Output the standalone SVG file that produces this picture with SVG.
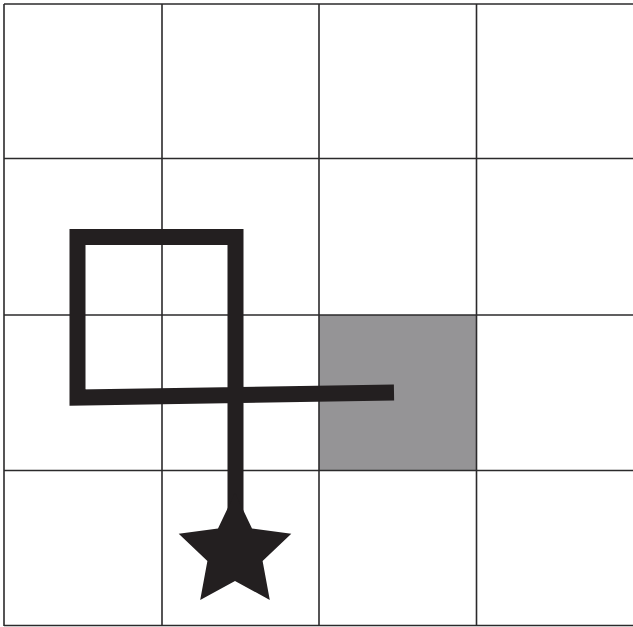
<svg xmlns="http://www.w3.org/2000/svg" width="633" height="627" viewBox="0 0 633 627">
<style>
.grid{stroke:#2b2a2b;stroke-width:1.6;fill:none}
.path{stroke:#231f20;stroke-width:16;fill:none;stroke-linejoin:miter;stroke-linecap:butt}
</style>
<rect x="0" y="0" width="633" height="627" fill="#fff"/>
<g id="target-cell">
<rect x="319" y="315" width="158" height="155" fill="#959496"/>
</g>
<g id="grid">
<line class="grid" x1="4" y1="4" x2="633" y2="4"/>
<line class="grid" x1="4" y1="158.5" x2="633" y2="158.5"/>
<line class="grid" x1="4" y1="315" x2="633" y2="315"/>
<line class="grid" x1="4" y1="470.5" x2="633" y2="470.5"/>
<line class="grid" x1="4" y1="625.5" x2="633" y2="625.5"/>
<line class="grid" x1="4" y1="4" x2="4" y2="626"/>
<line class="grid" x1="162" y1="4" x2="162" y2="626"/>
<line class="grid" x1="319" y1="4" x2="319" y2="626"/>
<line class="grid" x1="476.5" y1="4" x2="476.5" y2="626"/>
</g>
<g id="connectors">
<path class="path" d="M394 392.5 L77.5 397.5 L77.5 237 L235.5 237 L235.5 515"/>
</g>
<g id="star">
<polygon fill="#231f20" points="235,492.8 252,528.5 291.3,533.7 262.6,561 269.8,599.9 235,581 200.2,599.9 207.4,561 178.7,533.7 218,528.5"/>
</g>
</svg>
